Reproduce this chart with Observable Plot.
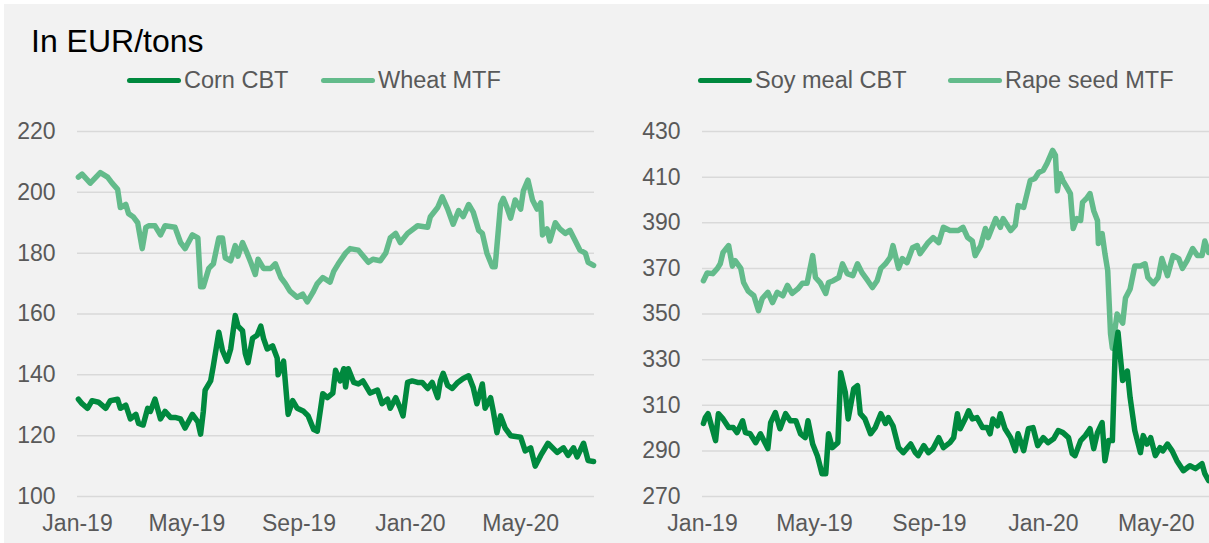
<!DOCTYPE html>
<html>
<head>
<meta charset="utf-8">
<script src="https://cdn.jsdelivr.net/npm/d3@7"></script>
<script src="https://cdn.jsdelivr.net/npm/@observablehq/plot@0.6"></script>
<style>
  html, body { margin: 0; padding: 0; background: #ffffff; }
  #wrap { position: relative; width: 1209px; height: 543px; overflow: hidden; font-family: "Liberation Sans", Arial, sans-serif; }
  #bg { position: absolute; left: 4px; top: 4px; width: 1205px; height: 539px; background: #f2f2f2; }
  .abs { position: absolute; }
  .title { left: 31px; top: 25px; font-size: 32px; line-height: 32px; color: #000; white-space: nowrap; }
  .sw { height: 5px; width: 54px; border-radius: 3px; top: 78px; }
  .lt { font-size: 23.5px; line-height: 23.5px; color: #595959; top: 68.5px; white-space: nowrap; }
  svg { position: absolute; top: 0; overflow: visible; }
</style>
</head>
<body>
<div id="wrap">
  <div id="bg"></div>
</div>
<script>
// ---------------- data ----------------
const seriesNames = ["Corn CBT", "Wheat MTF", "Soy meal CBT", "Rape seed MTF"];
const darkGreen = "#00893e";
const lightGreen = "#63bb8b";

const leftYTicks = [100, 120, 140, 160, 180, 200, 220];
const rightYTicks = [270, 290, 310, 330, 350, 370, 390, 410, 430];
const xTickDates = ["2019-01-01", "2019-05-01", "2019-09-01", "2020-01-01", "2020-05-01"];
const leftXDomain = ["2019-01-01", "2020-07-21"];
const rightXDomain = ["2019-01-01", "2020-06-27"];

const wheatMTF = [["2019-01-02",205],["2019-01-06",206],["2019-01-15",203],["2019-01-26",206.5],["2019-02-03",205],["2019-02-08",203],["2019-02-14",201],["2019-02-17",195],["2019-02-23",196],["2019-02-26",193],["2019-03-03",192],["2019-03-08",190],["2019-03-13",181.5],["2019-03-17",188.5],["2019-03-20",189],["2019-03-27",189],["2019-04-02",186],["2019-04-07",189],["2019-04-18",188.5],["2019-04-24",183.5],["2019-04-29",181.5],["2019-05-07",186],["2019-05-13",185],["2019-05-16",169],["2019-05-19",169],["2019-05-25",175],["2019-05-30",176.5],["2019-06-05",185],["2019-06-09",185],["2019-06-12",178.5],["2019-06-18",177.5],["2019-06-23",182.5],["2019-06-26",179],["2019-07-01",183.5],["2019-07-06",180],["2019-07-10",177],["2019-07-15",173],["2019-07-18",178],["2019-07-24",175],["2019-08-01",175],["2019-08-06",176.5],["2019-08-12",172],["2019-08-17",170],["2019-08-22",167.5],["2019-08-30",165.5],["2019-09-05",166.5],["2019-09-10",164],["2019-09-16",167],["2019-09-21",170],["2019-09-27",172],["2019-10-05",170.5],["2019-10-09",174],["2019-10-14",176.5],["2019-10-22",180],["2019-10-27",181.5],["2019-11-05",181],["2019-11-16",177],["2019-11-21",178],["2019-11-29",177.5],["2019-12-05",180],["2019-12-10",185],["2019-12-16",186.5],["2019-12-21",183.5],["2019-12-29",186.5],["2020-01-09",189],["2020-01-20",188.5],["2020-01-23",192],["2020-01-31",195],["2020-02-05",198.5],["2020-02-11",194.5],["2020-02-17",189.5],["2020-02-23",194],["2020-02-28",192],["2020-03-05",196],["2020-03-10",193.5],["2020-03-16",187.5],["2020-03-20",186.5],["2020-03-25",180],["2020-03-31",175.5],["2020-04-03",175.5],["2020-04-09",196],["2020-04-12",198],["2020-04-16",195],["2020-04-20",191.5],["2020-04-25",197.5],["2020-05-01",194.5],["2020-05-04",200.5],["2020-05-09",204],["2020-05-14",197.5],["2020-05-19",194.5],["2020-05-23",196.5],["2020-05-25",186],["2020-05-30",188],["2020-06-02",184],["2020-06-08",190],["2020-06-13",188],["2020-06-19",186.5],["2020-06-24",187.5],["2020-06-30",184],["2020-07-05",181],["2020-07-11",180],["2020-07-14",177],["2020-07-20",176]];

const cornCBT = [["2019-01-02",132],["2019-01-06",130.5],["2019-01-12",129],["2019-01-17",131.5],["2019-01-24",131],["2019-02-01",129],["2019-02-06",131.5],["2019-02-14",132],["2019-02-17",129],["2019-02-23",130],["2019-02-28",125.5],["2019-03-06",127],["2019-03-09",124],["2019-03-14",123.5],["2019-03-19",129],["2019-03-22",128],["2019-03-27",132],["2019-04-02",125.5],["2019-04-07",128],["2019-04-13",126],["2019-04-18",126],["2019-04-24",125.5],["2019-04-29",122.5],["2019-05-07",127],["2019-05-13",124.5],["2019-05-16",120.5],["2019-05-19",128],["2019-05-21",135],["2019-05-27",138],["2019-05-30",143],["2019-06-05",154],["2019-06-09",148],["2019-06-14",144.5],["2019-06-18",148.5],["2019-06-23",159.5],["2019-06-26",156],["2019-07-01",154.5],["2019-07-04",147],["2019-07-07",144],["2019-07-12",152],["2019-07-17",153],["2019-07-21",156],["2019-07-24",152],["2019-07-28",148.5],["2019-08-03",149.5],["2019-08-08",145.5],["2019-08-09",140],["2019-08-15",144.5],["2019-08-20",127],["2019-08-25",131.5],["2019-08-30",129],["2019-09-06",128],["2019-09-11",126.5],["2019-09-17",122],["2019-09-21",121.5],["2019-09-27",133.8],["2019-10-02",132.5],["2019-10-08",134],["2019-10-11",141.5],["2019-10-16",138],["2019-10-20",142],["2019-10-22",136],["2019-10-25",142],["2019-10-31",137.5],["2019-11-05",137],["2019-11-10",138],["2019-11-18",134],["2019-11-26",135],["2019-12-01",130.5],["2019-12-07",132],["2019-12-10",129],["2019-12-16",132.5],["2019-12-21",129],["2019-12-24",126.5],["2019-12-29",137.5],["2020-01-03",138],["2020-01-09",137.5],["2020-01-14",137.5],["2020-01-20",135.5],["2020-01-25",137.5],["2020-01-31",132.5],["2020-02-03",138],["2020-02-06",140.5],["2020-02-11",136.5],["2020-02-16",135.5],["2020-02-22",137.5],["2020-02-28",138.8],["2020-03-05",139.7],["2020-03-10",135.8],["2020-03-14",130.5],["2020-03-20",137],["2020-03-23",129],["2020-03-29",132.5],["2020-04-01",128],["2020-04-05",121],["2020-04-09",126.5],["2020-04-14",122.5],["2020-04-20",120],["2020-05-01",119.5],["2020-05-06",115],["2020-05-12",116],["2020-05-17",110],["2020-05-23",113.5],["2020-05-31",117.5],["2020-06-10",114.5],["2020-06-17",116],["2020-06-22",113.5],["2020-06-28",116],["2020-07-02",113],["2020-07-09",117.5],["2020-07-14",111.8],["2020-07-20",111.5]];

const rapeSeedMTF = [["2019-01-02",364.6],["2019-01-06",368],["2019-01-12",367.7],["2019-01-17",370],["2019-01-20",372],["2019-01-23",377],["2019-01-29",380],["2019-02-02",371],["2019-02-05",373.4],["2019-02-11",370],["2019-02-14",363.8],["2019-02-19",360],["2019-02-25",358],["2019-03-02",351.5],["2019-03-06",356.8],["2019-03-12",359.5],["2019-03-17",355],["2019-03-22",359.5],["2019-03-28",358],["2019-04-02",362.5],["2019-04-07",359],["2019-04-13",361],["2019-04-18",363.5],["2019-04-23",363.5],["2019-04-29",375.6],["2019-05-02",366],["2019-05-07",363.8],["2019-05-13",359],["2019-05-16",363.8],["2019-05-21",364.6],["2019-05-27",366],["2019-05-31",372],["2019-06-05",367.7],["2019-06-11",366.8],["2019-06-16",372],["2019-06-21",368],["2019-06-27",364.6],["2019-07-02",361.6],["2019-07-07",364.6],["2019-07-11",370],["2019-07-16",372],["2019-07-21",374.8],["2019-07-24",380],["2019-07-30",370],["2019-08-03",374.3],["2019-08-08",372.5],["2019-08-14",379],["2019-08-19",380],["2019-08-22",376.5],["2019-08-30",381],["2019-09-05",383.5],["2019-09-11",381.3],["2019-09-16",388],["2019-09-23",386.6],["2019-10-02",386.6],["2019-10-07",388],["2019-10-12",383.5],["2019-10-17",382],["2019-10-20",375.6],["2019-10-26",380],["2019-10-31",387.5],["2019-11-03",383.5],["2019-11-11",391.8],["2019-11-16",388],["2019-11-19",391.8],["2019-11-27",386.6],["2019-12-02",388.8],["2019-12-05",397.5],["2019-12-11",396.7],["2019-12-18",408.5],["2019-12-23",409.4],["2019-12-27",412],["2020-01-01",413],["2020-01-05",416],["2020-01-11",421.7],["2020-01-14",419.5],["2020-01-16",404],["2020-01-19",411.5],["2020-01-22",408.5],["2020-01-27",405],["2020-01-30",402.8],["2020-02-02",387.5],["2020-02-06",391.8],["2020-02-10",391],["2020-02-12",398.9],["2020-02-17",401],["2020-02-20",402.8],["2020-02-24",395.3],["2020-02-28",391],["2020-02-29",380.9],["2020-03-04",385.3],["2020-03-07",376.5],["2020-03-10",369],["2020-03-13",341.4],["2020-03-15",335],["2020-03-20",350],["2020-03-26",346],["2020-03-29",357],["2020-04-03",361],["2020-04-08",371],["2020-04-14",371],["2020-04-19",372],["2020-04-22",366],["2020-04-28",363.3],["2020-05-03",366],["2020-05-07",374.3],["2020-05-13",366.8],["2020-05-19",375.6],["2020-05-25",374.3],["2020-05-29",370],["2020-06-03",373.4],["2020-06-09",378.7],["2020-06-14",375.6],["2020-06-19",375.6],["2020-06-22",382],["2020-06-26",377]];

const soyMealCBT = [["2019-01-02",302],["2019-01-04",304.6],["2019-01-07",306.3],["2019-01-12",298.9],["2019-01-15",294.5],["2019-01-18",306.3],["2019-01-23",304],["2019-01-29",300.2],["2019-02-03",300.2],["2019-02-07",298],["2019-02-13",303.2],["2019-02-16",298],["2019-02-21",297.5],["2019-02-27",293.6],["2019-03-04",297.5],["2019-03-12",291],["2019-03-15",302.4],["2019-03-20",306.8],["2019-03-25",299.7],["2019-03-31",306.3],["2019-04-05",303.2],["2019-04-11",303.2],["2019-04-16",297.5],["2019-04-21",295.8],["2019-04-24",303.2],["2019-04-29",293],["2019-05-04",287.9],["2019-05-09",280],["2019-05-13",280],["2019-05-16",297.5],["2019-05-20",291.4],["2019-05-26",293.6],["2019-05-29",324.3],["2019-06-03",315.5],["2019-06-06",304],["2019-06-12",317.3],["2019-06-16",318.6],["2019-06-19",306.3],["2019-06-24",304],["2019-06-30",297.5],["2019-07-05",300.2],["2019-07-11",306.3],["2019-07-16",302],["2019-07-19",304.6],["2019-07-24",301],["2019-07-30",291.4],["2019-08-04",289.2],["2019-08-12",293],["2019-08-17",289.2],["2019-08-20",287.9],["2019-08-26",292.3],["2019-08-31",289.2],["2019-09-05",291],["2019-09-11",295.8],["2019-09-16",291.4],["2019-09-23",293.6],["2019-09-27",295.8],["2019-10-01",306.3],["2019-10-04",299.7],["2019-10-10",304.6],["2019-10-13",307.6],["2019-10-17",304],["2019-10-22",304.6],["2019-10-28",300.2],["2019-11-02",300.2],["2019-11-05",297.5],["2019-11-08",304],["2019-11-13",301],["2019-11-16",306.3],["2019-11-21",299.7],["2019-11-27",295.8],["2019-12-02",290.1],["2019-12-05",297.5],["2019-12-11",290.1],["2019-12-16",299.7],["2019-12-21",300.2],["2019-12-26",292.3],["2020-01-01",295.8],["2020-01-06",293.6],["2020-01-12",295.3],["2020-01-17",298.9],["2020-01-22",298],["2020-01-28",295.8],["2020-02-01",288.8],["2020-02-04",287.9],["2020-02-10",294.5],["2020-02-15",296.7],["2020-02-20",299.7],["2020-02-24",291],["2020-02-28",298],["2020-03-04",302.4],["2020-03-07",285.7],["2020-03-11",294.5],["2020-03-15",294.5],["2020-03-18",334],["2020-03-21",342],["2020-03-26",320.8],["2020-03-31",325],["2020-04-03",313.3],["2020-04-08",298.9],["2020-04-14",289.2],["2020-04-17",296.7],["2020-04-21",293],["2020-04-25",295.8],["2020-04-30",287.9],["2020-05-05",291.4],["2020-05-08",290],["2020-05-13",293],["2020-05-18",290],["2020-05-23",285.7],["2020-05-30",281.3],["2020-06-06",283.5],["2020-06-12",282.2],["2020-06-19",284.4],["2020-06-22",280],["2020-06-26",277]];

// ---------------- rendering ----------------
const parse = d3.utcParse("%Y-%m-%d");
const toRows = (arr) => arr.map(([d, v]) => ({date: parse(d), value: v}));
const fmt = d3.utcFormat("%b-%y");
const xTicks = xTickDates.map(parse);
const FONT = "'Liberation Sans', Arial, sans-serif";

function panel({width, marginLeft, marginRight, xDomain, yDomain, yTicks, lightData, darkData}) {
  return Plot.plot({
    width, height: 543,
    marginTop: 131, marginBottom: 47, marginLeft, marginRight,
    style: {background: "transparent", fontFamily: FONT, fontSize: "23px", color: "#595959", overflow: "visible"},
    x: {type: "utc", domain: xDomain.map(parse)},
    y: {domain: yDomain},
    marks: [
      Plot.ruleY(yTicks, {stroke: "#d9d9d9", strokeWidth: 1.5}),
      Plot.axisY({ticks: yTicks, tickSize: 0, tickPadding: 22, label: null, fontSize: 23}),
      Plot.axisX({ticks: xTicks, tickSize: 0, tickPadding: 18, tickFormat: fmt, label: null, fontSize: 23}),
      Plot.line(toRows(lightData), {x: "date", y: "value", stroke: lightGreen, strokeWidth: 5.5, strokeLinejoin: "round", strokeLinecap: "round"}),
      Plot.line(toRows(darkData), {x: "date", y: "value", stroke: darkGreen, strokeWidth: 5.5, strokeLinejoin: "round", strokeLinecap: "round"})
    ]
  });
}

const wrap = document.getElementById("wrap");

const left = panel({width: 604, marginLeft: 77, marginRight: 10, xDomain: leftXDomain, yDomain: [100, 220], yTicks: leftYTicks, lightData: wheatMTF, darkData: cornCBT});
left.style.left = "0px";
wrap.appendChild(left);

const right = panel({width: 605, marginLeft: 98, marginRight: 0, xDomain: rightXDomain, yDomain: [270, 430], yTicks: rightYTicks, lightData: rapeSeedMTF, darkData: soyMealCBT});
right.style.left = "604px";
wrap.appendChild(right);

// title and legends (HTML, outside the SVGs)
function addDiv(cls, style, text) {
  const d = document.createElement("div");
  d.className = "abs " + cls;
  Object.assign(d.style, style);
  if (text) d.textContent = text;
  wrap.appendChild(d);
}
addDiv("title", {}, "In EUR/tons");
const legendItems = [
  {name: seriesNames[0], color: darkGreen, sw: 127, tx: 184},
  {name: seriesNames[1], color: lightGreen, sw: 321, tx: 378},
  {name: seriesNames[2], color: darkGreen, sw: 698, tx: 755},
  {name: seriesNames[3], color: lightGreen, sw: 948, tx: 1005}
];
legendItems.forEach(it => {
  addDiv("sw", {left: it.sw + "px", background: it.color});
  addDiv("lt", {left: it.tx + "px"}, it.name);
});
</script>
</body>
</html>
